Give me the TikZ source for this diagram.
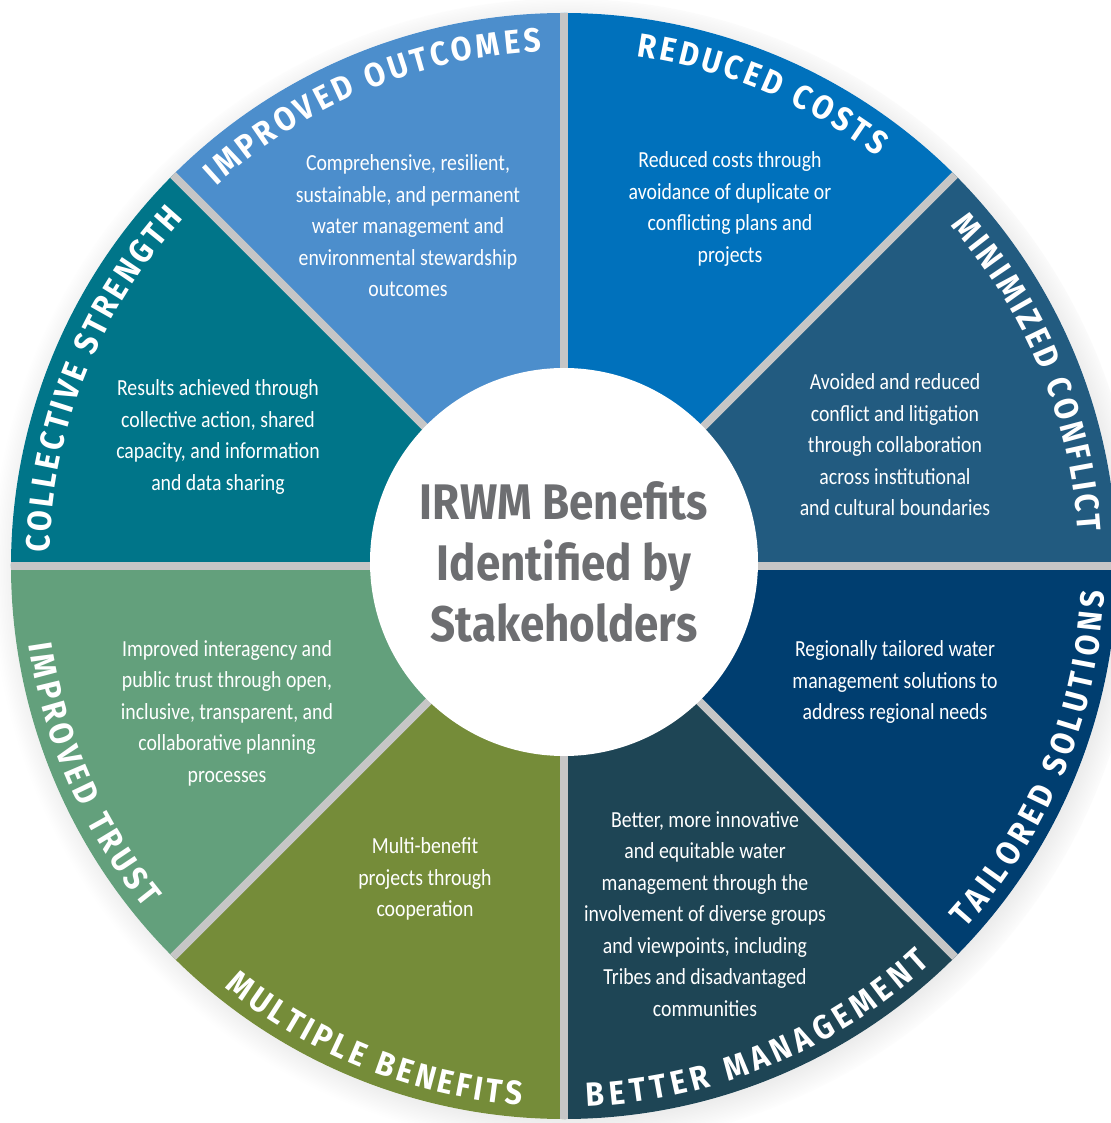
\documentclass[tikz,border=0pt]{standalone}
\usepackage{fontspec}
\setmainfont{Fira Sans}
\newfontfamily\bodyfont{Carlito}[FakeStretch=0.86]
\newfontfamily\titlefont{Fira Sans}[FakeStretch=0.9]
\newfontfamily\hubfont{Fira Sans}[FakeStretch=0.88]
\usepackage{tikz}
\usetikzlibrary{decorations.text, shadows, positioning}

\definecolor{outcomesblue}{RGB}{76,142,204}
\definecolor{costsblue}{RGB}{0,113,188}
\definecolor{conflictblue}{RGB}{34,91,128}
\definecolor{solutionsblue}{RGB}{0,62,112}
\definecolor{mgmtteal}{RGB}{30,69,85}
\definecolor{benefitsgreen}{RGB}{117,140,57}
\definecolor{trustgreen}{RGB}{99,160,124}
\definecolor{strengthteal}{RGB}{0,117,137}
\definecolor{dividergrey}{RGB}{198,198,198}
\definecolor{hubgrey}{RGB}{109,110,113}

\tikzset{
  blurb/.style = {text=white, align=center, inner sep=0pt,
                  font=\bodyfont\fontsize{23}{31.5}\selectfont},
  divider/.style = {draw=dividergrey, line width=8pt},
  hub/.style = {circle, fill=white, minimum size=388pt, inner sep=0pt,
                text=hubgrey, align=center,
                font=\hubfont\bfseries\fontsize{50}{61}\selectfont},
}
% one coloured slice of the wheel
\NewDocumentCommand{\slice}{m m m}{%
	\fill[#1] (0,0) -- (#2:553pt) arc[start angle=#2, end angle=#3, radius=553pt] -- cycle;
}
% a title bent along the rim
\NewDocumentCommand{\rimtitle}{m m m m}{%
	\path[decorate, decoration={text along path, text align=fit to path,
	  text={|\titlefont\bfseries\fontsize{33.5}{33.5}\selectfont\color{white}|#4}}]
	  (#1:#3) arc[start angle=#1, end angle=#2, radius=#3];
}

\begin{document}
\begin{tikzpicture}[x=1pt, y=1pt]
\useasboundingbox (-564,-557) rectangle (546,566);
\fill[white, circular drop shadow={shadow xshift=4pt, shadow yshift=-4pt,
  shadow scale=1.04, opacity=0.45}] (0,0) circle (553pt);
\slice{costsblue}{45}{90}
\slice{outcomesblue}{90}{135}
\slice{strengthteal}{135}{180}
\slice{trustgreen}{180}{225}
\slice{benefitsgreen}{225}{270}
\slice{mgmtteal}{270}{315}
\slice{solutionsblue}{315}{360}
\slice{conflictblue}{0}{45}
\foreach \a in {0,45,...,315}
  \draw[divider] (0,0) -- (\a:553pt);
\node[hub] (hub) at (0,4) {IRWM Benefits\\Identified by\\Stakeholders};

\rimtitle{132.5}{92.5}{515pt}{IMPROVED OUTCOMES}
\rimtitle{81.9}{52.6}{515pt}{REDUCED COSTS}
\rimtitle{41.4}{3.8}{515pt}{MINIMIZED CONFLICT}
\rimtitle{178.5}{137.6}{515pt}{COLLECTIVE STRENGTH}
\rimtitle{188.3}{219.2}{541pt}{IMPROVED TRUST}
\rimtitle{231.2}{265.5}{541pt}{MULTIPLE BENEFITS}
\rimtitle{272.4}{312.7}{541pt}{BETTER MANAGEMENT}
\rimtitle{317.9}{357.3}{541pt}{TAILORED SOLUTIONS}

\node[blurb] (outcomes) at (-156,340) {Comprehensive, resilient,\\sustainable, and permanent\\water management and\\environmental stewardship\\outcomes};
\node[blurb] (costs) at (166,357) {Reduced costs through\\avoidance of duplicate or\\conflicting plans and\\projects};
\node[blurb] (conflict) at (331,121) {Avoided and reduced\\conflict and litigation\\through collaboration\\across institutional\\and cultural boundaries};
\node[blurb] (solutions) at (331,-116) {Regionally tailored water\\management solutions to\\address regional needs};
\node[blurb] (management) at (141,-348) {Better, more innovative\\and equitable water\\management through the\\involvement of diverse groups\\and viewpoints, including\\Tribes and disadvantaged\\communities};
\node[blurb] (benefits) at (-139,-313) {Multi-benefit\\projects through\\cooperation};
\node[blurb] (trust) at (-337,-147) {Improved interagency and\\public trust through open,\\inclusive, transparent, and\\collaborative planning\\processes};
\node[blurb] (strength) at (-346,129) {Results achieved through\\collective action, shared\\capacity, and information\\and data sharing};
\end{tikzpicture}
\end{document}
